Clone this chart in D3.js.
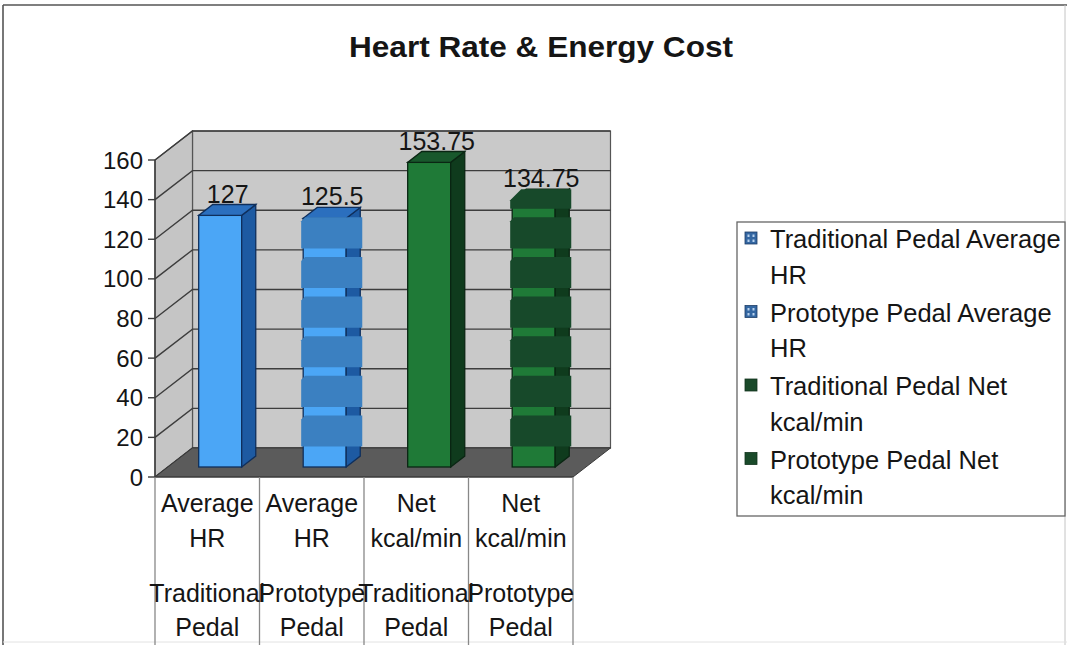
<!DOCTYPE html>
<html>
<head>
<meta charset="utf-8">
<script src="https://cdn.jsdelivr.net/npm/d3@7"></script>
<style>
  body { margin: 0; background: #fff; }
  svg { display: block; }
  text { font-family: "Liberation Sans", Arial, Helvetica, sans-serif; fill: #151515; }
</style>
</head>
<body>
<svg id="chart" width="1067" height="645"></svg>
<script>
// ---- data ----
const chartTitle = "Heart Rate & Energy Cost";
const seriesNames = [
  ["Traditional Pedal Average", "HR"],
  ["Prototype Pedal Average", "HR"],
  ["Traditional Pedal Net", "kcal/min"],
  ["Prototype Pedal Net", "kcal/min"]
];
const measureLabels = [["Average", "HR"], ["Average", "HR"], ["Net", "kcal/min"], ["Net", "kcal/min"]];
const pedalLabels = [["Traditional", "Pedal"], ["Prototype", "Pedal"], ["Traditional", "Pedal"], ["Prototype", "Pedal"]];
const values = [127, 125.5, 153.75, 134.75];
const valueLabels = ["127", "125.5", "153.75", "134.75"];
const yTicks = [0, 20, 40, 60, 80, 100, 120, 140, 160];

// ---- styling per series ----
const palette = [
  { front: "#4ba6f6", side: "#1d5aa2", top: "#2b6fbe", edge: "#0f2f5c", band: null },
  { front: "#4ba6f6", side: "#1d5aa2", top: "#2b6fbe", edge: "#0f2f5c", band: "#3b80c1" },
  { front: "#1f7a37", side: "#0f3b1d", top: "#18582c", edge: "#0a2613", band: null },
  { front: "#1f7a37", side: "#0f3b1d", top: "#18582c", edge: "#0a2613", band: "#17492a" }
];
const legendSwatch = ["#3467a2", "#3467a2", "#1a4a2a", "#1a4a2a"];

const svg = d3.select("#chart");

// ---- 3D plot geometry ----
const X0 = 155, X1 = 573;          // front plane horizontal extent
const DX = 37.5, DY = -29;          // offset of the back wall
const D_FRONT = 0.345, D_BACK = 0.72; // bar depth range (0 = front, 1 = back)
const BAR_W = 43;

const x = d3.scaleBand().domain(d3.range(values.length)).range([X0, X1]).paddingInner(0).paddingOuter(0);
const y = d3.scaleLinear().domain([0, 160]).range([477, 160]);
const proj = (px, py, d) => [px + DX * d, py + DY * d];
const poly = pts => pts.map(p => p.join(",")).join(" ");

// outer frame
svg.append("line").attr("x1", 3).attr("y1", 5).attr("x2", 1067).attr("y2", 5).attr("stroke", "#555").attr("stroke-width", 1.6);
svg.append("line").attr("x1", 3).attr("y1", 5).attr("x2", 3).attr("y2", 645).attr("stroke", "#555").attr("stroke-width", 1.6);
svg.append("line").attr("x1", 1065).attr("y1", 5).attr("x2", 1065).attr("y2", 645).attr("stroke", "#c4c4c4").attr("stroke-width", 1);
svg.append("line").attr("x1", 3).attr("y1", 642).attr("x2", 1067).attr("y2", 642).attr("stroke", "#e2e2e2").attr("stroke-width", 1);

// title
svg.append("text")
  .attr("x", 541).attr("y", 57)
  .attr("text-anchor", "middle")
  .attr("font-size", 30).attr("font-weight", "bold")
  .attr("textLength", 384).attr("lengthAdjust", "spacingAndGlyphs")
  .text(chartTitle);

const y0 = y(0), yTop = y(160);

// walls
const plot = svg.append("g");
plot.append("polygon")
  .attr("points", poly([proj(X0, y0, 1), proj(X1, y0, 1), proj(X1, yTop, 1), proj(X0, yTop, 1)]))
  .attr("fill", "#c9c9c9").attr("stroke", "#555").attr("stroke-width", 1.2);
plot.append("polygon")
  .attr("points", poly([proj(X0, y0, 0), proj(X0, y0, 1), proj(X0, yTop, 1), proj(X0, yTop, 0)]))
  .attr("fill", "#c5c5c5").attr("stroke", "#555").attr("stroke-width", 1.2);

// gridlines on side and back walls
yTicks.forEach(t => {
  const a = proj(X0, y(t), 0), b = proj(X0, y(t), 1), c = proj(X1, y(t), 1);
  plot.append("polyline")
    .attr("points", poly([a, b, c]))
    .attr("fill", "none").attr("stroke", "#3d3d3d").attr("stroke-width", 1.4);
});

// floor
plot.append("polygon")
  .attr("points", poly([proj(X0, y0, 0), proj(X1, y0, 0), proj(X1, y0, 1), proj(X0, y0, 1)]))
  .attr("fill", "#5b5b5b").attr("stroke", "#3a3a3a").attr("stroke-width", 1);

// value axis
plot.append("line").attr("x1", X0).attr("y1", y0).attr("x2", X0).attr("y2", yTop)
  .attr("stroke", "#3a3a3a").attr("stroke-width", 1.4);
const yAxis = svg.append("g");
yTicks.forEach(t => {
  yAxis.append("line").attr("x1", X0 - 7).attr("x2", X0).attr("y1", y(t)).attr("y2", y(t))
    .attr("stroke", "#3a3a3a").attr("stroke-width", 1.4);
  yAxis.append("text")
    .attr("x", 143).attr("y", y(t) + 8.5)
    .attr("text-anchor", "end").attr("font-size", 24)
    .text(t);
});

// bars
const topBack = (bx, yv) => proj(bx, yv, D_BACK)[1];
const bars = svg.append("g");
values.forEach((v, i) => {
  const c = palette[i];
  const bx = x(i) + (x.bandwidth() - BAR_W) / 2;
  const yv = y(v);
  const fl = proj(bx, yv, D_FRONT), fr = proj(bx + BAR_W, y0, D_FRONT);
  // front face
  bars.append("rect")
    .attr("x", fl[0]).attr("y", fl[1])
    .attr("width", fr[0] - fl[0]).attr("height", fr[1] - fl[1])
    .attr("fill", c.front).attr("stroke", c.edge).attr("stroke-width", 1.3);
  // side face
  bars.append("polygon")
    .attr("points", poly([proj(bx + BAR_W, y0, D_FRONT), proj(bx + BAR_W, y0, D_BACK), proj(bx + BAR_W, yv, D_BACK), proj(bx + BAR_W, yv, D_FRONT)]))
    .attr("fill", c.side).attr("stroke", c.edge).attr("stroke-width", 1.3);
  // top face
  bars.append("polygon")
    .attr("points", poly([proj(bx, yv, D_FRONT), proj(bx + BAR_W, yv, D_FRONT), proj(bx + BAR_W, yv, D_BACK), proj(bx, yv, D_BACK)]))
    .attr("fill", c.top).attr("stroke", c.edge).attr("stroke-width", 1.3);

  // banded fill for prototype series: blocks between the back-wall gridlines
  if (c.band) {
    const left = fl[0] - 2;
    const right = proj(bx + BAR_W, y0, D_BACK)[0] + 2;
    const tb = topBack(bx, yv);
    for (let k = 0; k < yTicks.length - 1; k++) {
      const lo = yTicks[k], hi = yTicks[k + 1];
      if (lo >= v) break;
      const gTop = y(hi) + DY + 7;
      const gBot = y(lo) + DY - 1.5;
      const top = Math.max(gTop, tb);
      if (gBot - top < 3) continue;
      const cut = (top === tb) ? 11 : 4;
      bars.append("polygon")
        .attr("points", poly([[left, top + cut], [left + cut, top], [right, top], [right, gBot], [left, gBot]]))
        .attr("fill", c.band);
    }
  }

  // value label above the bar
  const lblX = (fl[0] + proj(bx + BAR_W, yv, D_BACK)[0]) / 2 + 0.5;
  svg.append("text")
    .attr("x", lblX).attr("y", topBack(bx, yv) - 2)
    .attr("text-anchor", "middle").attr("font-size", 25)
    .text(valueLabels[i]);
});

// category table under the floor
const cat = svg.append("g");
cat.append("line").attr("x1", X0).attr("x2", X1).attr("y1", y0).attr("y2", y0).attr("stroke", "#3a3a3a").attr("stroke-width", 1);
d3.range(values.length + 1).forEach(i => {
  const xx = i < values.length ? x(i) : X1;
  cat.append("line").attr("x1", xx).attr("x2", xx).attr("y1", y0).attr("y2", 645)
    .attr("stroke", "#888").attr("stroke-width", 1.3);
});
values.forEach((v, i) => {
  const cx = x(i) + x.bandwidth() / 2;
  const rows = [[measureLabels[i][0], 512], [measureLabels[i][1], 547], [pedalLabels[i][0], 602], [pedalLabels[i][1], 636]];
  rows.forEach(([txt, yy]) => {
    cat.append("text").attr("x", cx).attr("y", yy)
      .attr("text-anchor", "middle").attr("font-size", 25)
      .text(txt);
  });
});

// legend
const lg = svg.append("g");
lg.append("rect").attr("x", 737).attr("y", 222).attr("width", 328).attr("height", 294)
  .attr("fill", "#fff").attr("stroke", "#666").attr("stroke-width", 1.3);
seriesNames.forEach((lines, i) => {
  const by = 248 + i * 73.5;
  lg.append("rect").attr("x", 745).attr("y", by - 16).attr("width", 12).attr("height", 12)
    .attr("fill", legendSwatch[i]).attr("stroke", i < 2 ? "#1d3d66" : "#12331d").attr("stroke-width", 0.8);
  if (i < 2) {
    // light pattern marks on the patterned swatches
    [[747.5, by - 13.5], [752.5, by - 13.5], [747.5, by - 8.5], [752.5, by - 8.5]].forEach(p => {
      lg.append("rect").attr("x", p[0]).attr("y", p[1]).attr("width", 2).attr("height", 2.5).attr("fill", "#b8d2ee");
    });
  }
  lines.forEach((t, j) => {
    lg.append("text").attr("x", 770).attr("y", by + j * 35.5)
      .attr("font-size", 25.5).text(t);
  });
});
</script>
</body>
</html>
